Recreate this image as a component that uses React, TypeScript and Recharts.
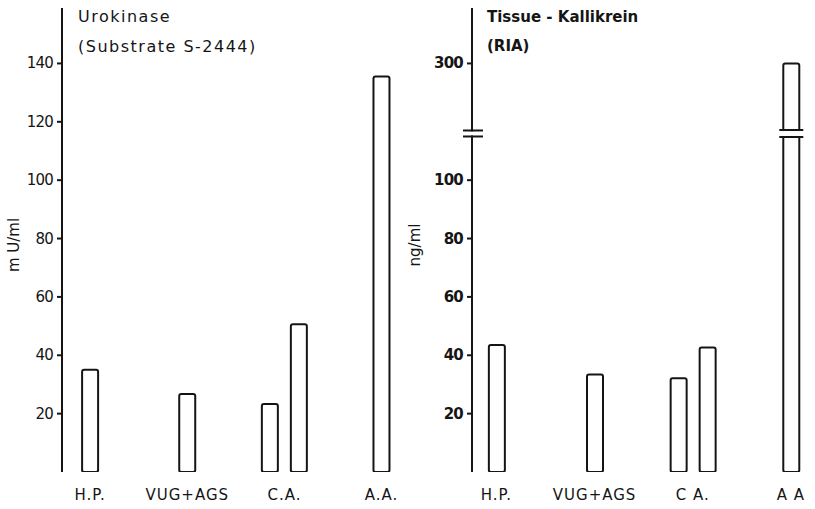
import React from 'react';
import { BarChart, Bar, XAxis, YAxis } from 'recharts';

// ---------- data ----------
const leftCategories = ['H.P.', 'VUG+AGS', 'C.A.', 'A.A.'];
const rightCategories = ['H.P.', 'VUG+AGS', 'C A.', 'A A'];
const urokinaseFirst: (number | null)[] = [35, 26.7, 23.3, 135.5];
const urokinaseSecond: (number | null)[] = [null, null, 50.6, null];
const kallikreinFirst: (number | null)[] = [43.5, 33.4, 32.1, 300];
const kallikreinSecond: (number | null)[] = [null, null, 42.7, null];
const leftTicks = [20, 40, 60, 80, 100, 120, 140];
const rightTicks = [20, 40, 60, 80, 100, 300];

// ---------- broken-axis helpers (right panel) ----------
const BREAK_AT = 116; // display units where the axis is interrupted
const BREAK_SHIFT = 160; // values beyond the break are drawn shifted down
const BIG = 200;
const toDisplay = (v: number | null, broken: boolean) =>
  v == null ? null : broken && v > BIG ? v - BREAK_SHIFT : v;
const fromDisplay = (d: number, broken: boolean) => (broken && d > BREAK_AT ? d + BREAK_SHIFT : d);

const buildRows = (cats: string[], a: (number | null)[], b: (number | null)[], broken: boolean) =>
  cats.map((c, i) => ({
    idx: i,
    label: c,
    first: toDisplay(a[i], broken),
    second: toDisplay(b[i], broken),
    firstRaw: a[i],
  }));

const leftRows = buildRows(leftCategories, urokinaseFirst, urokinaseSecond, false);
const rightRows = buildRows(rightCategories, kallikreinFirst, kallikreinSecond, true);

// ---------- styles ----------
const INK = '#151515';
const FONT = "'DejaVu Sans', 'Liberation Sans', sans-serif";
const BAR_SIZE = 16;
const BAR_GAP = 13;
const TICK_SIZE = 5;
const TICK_MARGIN = 4;
const CHART_H = 509;
const Y_MAX = 159;

const FirstShape = (props: any) => {
  const { x, y, width, height, payload } = props;
  if (payload == null || payload.first == null || !height) return null;
  const dx = payload.second == null ? (width + BAR_GAP) / 2 : 0;
  const bx = x + dx;
  const broken = payload.firstRaw !== payload.first;
  let brk = null;
  if (broken) {
    const by = y + height - (BREAK_AT * height) / payload.first;
    brk = (
      <g>
        <rect x={bx - 3} y={by - 2.5} width={width + 6} height={5} fill="#fff" />
        <line x1={bx - 4} x2={bx + width + 4} y1={by - 3.5} y2={by - 3.5} stroke={INK} strokeWidth={2} />
        <line x1={bx - 4} x2={bx + width + 4} y1={by + 3.5} y2={by + 3.5} stroke={INK} strokeWidth={2} />
      </g>
    );
  }
  return (
    <g>
      <rect x={bx} y={y} width={width} height={height} rx={2} ry={2} fill="#fff" stroke={INK} strokeWidth={2} />
      {brk}
    </g>
  );
};

const SecondShape = (props: any) => {
  const { x, y, width, height, payload } = props;
  if (payload == null || payload.second == null || !height) return null;
  return <rect x={x} y={y} width={width} height={height} rx={2} ry={2} fill="#fff" stroke={INK} strokeWidth={2} />;
};

const makeYTick = (bold: boolean, broken: boolean) => (props: any) => {
  const { x, y, payload } = props;
  if (broken && payload.value === BREAK_AT) {
    const ax = x + TICK_SIZE + TICK_MARGIN;
    return (
      <g>
        <rect x={ax - 7} y={y - 2} width={10} height={4} fill="#fff" />
        <line x1={ax - 9} x2={ax + 11} y1={y - 3} y2={y - 3} stroke={INK} strokeWidth={2} />
        <line x1={ax - 9} x2={ax + 11} y1={y + 3} y2={y + 3} stroke={INK} strokeWidth={2} />
      </g>
    );
  }
  return (
    <text x={x} y={y} textAnchor="end" dominantBaseline="central" fill={INK} fontSize={15}
      fontFamily={FONT} fontWeight={bold ? 'bold' : 'normal'} letterSpacing={-0.8}>
      {fromDisplay(payload.value, broken)}
    </text>
  );
};

const makeXTick = (cats: string[], bold: boolean) => (props: any) => {
  const { x, y, payload } = props;
  return (
    <text x={x} y={y} dy={10.5} textAnchor="middle" fill={INK} fontSize={15} fontFamily={FONT}
      letterSpacing={1} fontWeight={bold ? 'bold' : 'normal'}>
      {cats[payload.value]}
    </text>
  );
};

const yLabel = (text: string, offsetX: number) => (p: any) => {
  const vb = p.viewBox || { x: 0, y: 8, width: 60, height: 464 };
  const cx = vb.x + offsetX;
  const cy = vb.y + vb.height / 2 + 5;
  return (
    <text x={cx} y={cy} transform={`rotate(-90, ${cx}, ${cy})`} textAnchor="middle" dominantBaseline="central"
      fill={INK} fontSize={15} fontFamily={FONT}>
      {text}
    </text>
  );
};

interface PanelProps {
  rows: any[];
  cats: string[];
  width: number;
  axisWidth: number;
  xDomain: [number, number];
  yTicks: number[];
  unit: string;
  unitX: number;
  bold: boolean;
  broken: boolean;
}

const Panel = ({ rows, cats, width, axisWidth, xDomain, yTicks, unit, unitX, bold, broken }: PanelProps) => (
  <BarChart width={width} height={CHART_H} data={rows} margin={{ top: 8, right: 0, bottom: 0, left: 0 }}
    barSize={BAR_SIZE} barGap={BAR_GAP}>
    <XAxis dataKey="idx" type="number" domain={xDomain} allowDataOverflow ticks={[0, 1, 2, 3]} interval={0}
      axisLine={false} tickLine={false} tickSize={0} tickMargin={17} height={37} tick={makeXTick(cats, false)} />
    <YAxis type="number" domain={[0, Y_MAX]} allowDataOverflow ticks={yTicks} interval={0} width={axisWidth}
      axisLine={{ stroke: INK, strokeWidth: 2 }} tickLine={{ stroke: INK, strokeWidth: 2 }}
      tickSize={TICK_SIZE} tickMargin={TICK_MARGIN} tick={makeYTick(bold, broken)}
      label={{ content: yLabel(unit, unitX) }} />
    <Bar dataKey="first" isAnimationActive={false} shape={FirstShape} />
    <Bar dataKey="second" isAnimationActive={false} shape={SecondShape} />
  </BarChart>
);

export default function App() {
  const rightDisplayTicks = [...rightTicks.map((t) => toDisplay(t, true) as number), BREAK_AT].sort((a, b) => a - b);
  return (
    <div style={{ position: 'absolute', left: 0, top: 0, width: 815, height: 509, background: '#fff' }}>
      <div style={{ position: 'absolute', left: 0, top: 0 }}>
        <Panel rows={leftRows} cats={leftCategories} width={400} axisWidth={62} xDomain={[-0.29, 3.19]}
          yTicks={leftTicks} unit="m U/ml" unitX={14} bold={false} broken={false} />
      </div>
      <div style={{ position: 'absolute', left: 400, top: 0 }}>
        <Panel rows={rightRows} cats={rightCategories} width={415} axisWidth={72} xDomain={[-0.249, 3.246]}
          yTicks={rightDisplayTicks} unit="ng/ml" unitX={15} bold={true} broken={true} />
      </div>
      <svg width={815} height={509} style={{ position: 'absolute', left: 0, top: 0, pointerEvents: 'none' }}>
        <g fill={INK} fontFamily={FONT} fontSize={16}>
          <text x={78} y={22} letterSpacing={1.5}>Urokinase</text>
          <text x={78} y={52} letterSpacing={1.5}>(Substrate S-2444)</text>
          <text x={487} y={22} fontWeight="bold" fontSize={15}>Tissue - Kallikrein</text>
          <text x={487} y={51} fontWeight="bold" fontSize={15}>(RIA)</text>
        </g>
      </svg>
    </div>
  );
}
